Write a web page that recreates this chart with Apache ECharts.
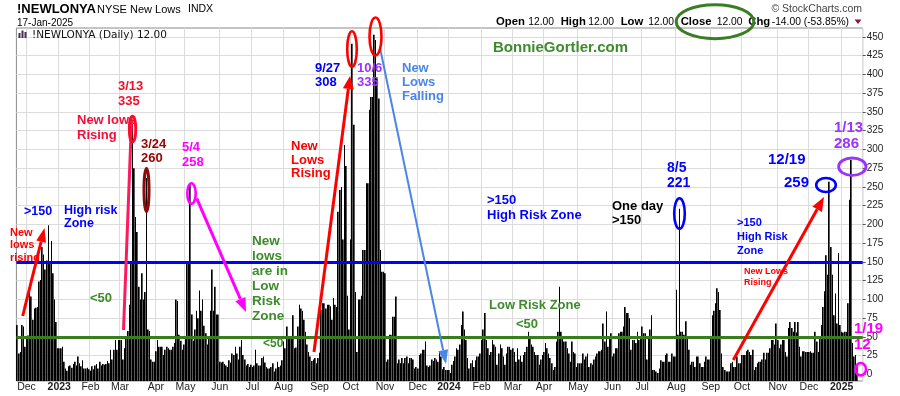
<!DOCTYPE html>
<html><head><meta charset="utf-8">
<script src="https://cdn.jsdelivr.net/npm/echarts@6.0.0/dist/echarts.min.js"></script>
<style>html,body{margin:0;padding:0;background:#fff}#c{width:900px;height:396px}</style>
</head><body><div id="c"></div>
<script>
// ---- data ----
const firstDate = '2022-11-22';
const holidays = ['2022-11-24','2022-12-26','2023-01-02','2023-01-16','2023-02-20','2023-04-07','2023-05-29','2023-06-19','2023-07-04','2023-09-04','2023-11-23','2023-12-25','2024-01-01','2024-01-15','2024-02-19','2024-03-29','2024-05-27','2024-06-19','2024-07-04','2024-09-02','2024-11-28','2024-12-25','2025-01-01','2025-01-09'];
const lows2022 = [66,28,30,66,64,37,
  50,52,113,104,73,88,89,90,124,126,170,160,140,152,199,150,178,135,100,70,35];
const lows2023 = [
  35,35,37,17,8,5,11,12,9,14,17,12,24,15,11,19,8,8,9,7,
  5,11,7,12,14,8,17,12,14,13,14,18,15,33,20,33,46,33,46,
  46,46,20,35,48,58,93,150,340,275,210,190,117,100,135,100,110,262,60,58,20,17,17,
  31,46,37,37,37,26,33,37,35,33,33,37,42,100,98,53,45,33,40,
  48,148,150,255,80,45,60,85,75,112,85,100,65,55,40,48,85,140,85,117,80,80,
  17,16,17,14,12,10,19,16,28,26,37,28,20,37,46,26,20,12,14,10,13,
  10,12,33,15,12,12,22,24,16,10,8,8,10,15,4,8,17,10,12,19,
  44,35,64,48,48,48,79,35,36,64,93,88,85,73,57,40,30,24,18,20,22,15,22,
  29,86,95,95,88,93,93,91,73,102,93,90,217,246,250,180,306,278,105,60,
  180,441,333,110,30,100,100,105,166,166,255,255,353,370,370,453,446,395,368,166,137,137,
  135,17,20,53,53,77,77,104,15,20,15,22,15,22,24,15,22,22,20,8,10,
  8,26,28,33,33,44,12,10,12,20,18,22,20,17,31,24,7,10,6,6];
const lows2024 = [
  6,2,13,18,24,35,33,40,66,84,60,46,22,8,15,19,10,19,24,24,28,
  46,60,82,46,35,26,30,46,40,37,13,28,40,35,24,13,28,37,37,33,
  35,30,17,35,20,25,17,26,30,37,57,48,40,37,30,26,26,13,20,26,
  30,42,35,28,22,15,6,10,44,57,117,57,50,44,44,35,28,17,44,30,28,10,
  15,15,15,28,20,24,28,10,15,13,20,24,28,31,31,33,68,44,84,37,50,55,
  24,28,35,35,55,57,57,64,90,82,82,75,33,46,46,42,57,46,50,
  64,55,55,20,50,60,79,6,6,4,2,8,19,17,17,26,28,17,17,28,24,24,
  113,53,221,57,57,53,71,50,33,13,17,17,10,24,24,15,10,10,17,24,20,20,
  50,79,85,95,115,110,86,28,10,6,4,4,4,15,17,10,10,24,15,15,
  26,26,26,31,33,30,26,33,6,10,15,17,17,20,29,20,29,29,35,46,46,40,68,
  46,35,40,46,46,30,24,62,70,62,57,70,56,70,37,24,31,31,30,30,
  30,31,29,29,57,44,30,48,66,90,111,159,133,257,170,133,79,108,68,162,66];
const lows2025 = [57,56,57,57,95,233,286,42,24,26,12];
const yTicks = [0,25,50,75,100,125,150,175,200,225,250,275,300,325,350,375,400,425,450];
const monthNames = ['Jan','Feb','Mar','Apr','May','Jun','Jul','Aug','Sep','Oct','Nov','Dec'];
const highRiskLevel = 150;
const lowRiskLevel = 50;
const padSlots = 3;

// ---- build ----
const values = [].concat(lows2022, lows2023, lows2024, lows2025);
const dates = [];
(function(){
  const d = new Date(firstDate + 'T00:00:00Z');
  while (dates.length < values.length) {
    const dow = d.getUTCDay();
    const s = d.toISOString().slice(0,10);
    if (dow !== 0 && dow !== 6 && holidays.indexOf(s) < 0) dates.push(s);
    d.setUTCDate(d.getUTCDate() + 1);
  }
})();
const categories = dates.concat(new Array(padSlots).fill(''));
const isMonthStart = categories.map((s,i) => i > 0 && !!s && s.slice(5,7) !== categories[i-1].slice(5,7));

const FF = '"Liberation Sans", Arial, sans-serif';
function T(x, cy, text, color, size, lh, o) {
  o = o || {};
  return {type:'text', x:x, y:cy, z:o.z == null ? 50 : o.z,
    style:{text:text, fill:color, font:(o.weight||'bold') + ' ' + size + 'px ' + (o.family||FF),
      lineHeight:lh||size+2, verticalAlign:'middle', textVerticalAlign:'middle',
      align:o.align||'left', textAlign:o.align||'left'}};
}
function E(cx, cy, rx, ry, color, lw) {
  return {type:'ellipse', z:60, shape:{cx:cx, cy:cy, rx:rx, ry:ry}, style:{fill:'none', stroke:color, lineWidth:lw}};
}
function A(x1, y1, x2, y2, color, lw, hl, hw) {
  const a = Math.atan2(y2-y1, x2-x1);
  const bx = x2 - hl*Math.cos(a), by = y2 - hl*Math.sin(a);
  const px = -Math.sin(a)*hw/2, py = Math.cos(a)*hw/2;
  return [
    {type:'line', z:55, shape:{x1:x1, y1:y1, x2:bx, y2:by}, style:{stroke:color, lineWidth:lw}},
    {type:'polygon', z:55, shape:{points:[[x2,y2],[bx+px,by+py],[bx-px,by-py]]}, style:{fill:color}}
  ];
}

const G = [];
// header
G.push(T(17, 9, '!NEWLONYA', '#000', 13));
G.push(T(97, 9.5, 'NYSE New Lows', '#000', 11, 13, {weight:'normal'}));
G.push(T(188, 9.5, 'INDX', '#000', 10.5, 13, {weight:'normal'}));
G.push(T(17, 23, '17-Jan-2025', '#000', 10, 12, {weight:'normal'}));
G.push({type:'rect', z:50, shape:{x:18.5, y:33, width:2, height:5}, style:{fill:'#4a2a55'}});
G.push({type:'rect', z:50, shape:{x:21.5, y:30.5, width:2, height:7.5}, style:{fill:'#4a2a55'}});
G.push({type:'rect', z:50, shape:{x:24.5, y:32, width:2, height:6}, style:{fill:'#4a2a55'}});
G.push(T(32, 35, '!NEWLONYA (Daily) 12.00', '#111', 10.5, 12, {weight:'normal', family:'"DejaVu Sans", Verdana, sans-serif'}));
G.push(T(862, 9, '\u00a9 StockCharts.com', '#444', 10.5, 12, {weight:'normal', align:'right'}));
[[496,'Open',1],[528.3,'12.00',0],[560.7,'High',1],[588.3,'12.00',0],[620.7,'Low',1],[648.3,'12.00',0],
 [680.7,'Close',1],[716.7,'12.00',0],[748.3,'Chg',1],[771.7,'-14.00 (-53.85%)',0]].forEach(p => {
  G.push(T(p[0], 22, p[1], '#000', p[2] ? 11.3 : 10.3, 13, {weight:p[2] ? 'bold' : 'normal'}));
});
G.push({type:'polygon', z:50, shape:{points:[[854.5,19.5],[861.5,19.5],[858,24]]}, style:{fill:'#8b1538'}});
G.push(E(715, 21.7, 38.8, 17, '#3a7d22', 3));
G.push(T(493, 48, 'BonnieGortler.com', '#3d8b2d', 15));

// left annotations
G.push(T(10, 245, 'New\nlows\nrising', '#ff0000', 11, 12.5, {z:1}));
G.push(...A(22.7, 316, 44.5, 228, '#ff0000', 3, 14, 10));
G.push(T(24, 212, '>150', '#0000ff', 12.5, 13));
G.push(T(64, 217.5, 'High risk\nZone', '#0000ff', 12.5, 13));
G.push(T(90, 298, '<50', '#3d8b2d', 13, 14));
G.push({type:'line', z:55, shape:{x1:123.5, y1:330, x2:131.5, y2:121}, style:{stroke:'#ff1a5e', lineWidth:3}});
G.push(T(118, 93.5, '3/13\n335', '#f0102a', 13, 15));
G.push(T(77, 128, 'New lows\nRising', '#f0103a', 13, 15));
G.push(E(132.5, 129, 3.2, 12.8, '#ff0a2a', 2.8));
G.push(T(141, 151, '3/24\n260', '#990000', 13, 14));
G.push(E(146.5, 190, 2.5, 21.5, '#8b0a0a', 3));
G.push(T(182, 155, '5/4\n258', '#ff00ff', 13, 14.5));
G.push(E(191.5, 193.5, 4.2, 10.2, '#ff00ff', 2.6));
G.push(...A(196.7, 198.3, 246, 312, '#ff00ff', 3, 14, 11));
G.push(T(252, 279, 'New\nlows\nare in\nLow\nRisk\nZone', '#3d8b2d', 13.5, 14.9));
G.push(T(263, 344, '<50', '#3d8b2d', 12, 13));

// middle annotations
G.push(T(291, 160, 'New\nLows\nRising', '#ff0000', 13, 13.5));
G.push(...A(314, 352, 350, 76, '#ff0000', 3, 13, 11));
G.push(E(352, 49, 4.8, 17.8, '#ff0000', 2.6));
G.push(E(375.5, 36.5, 6, 19, '#ff0000', 2.6));
G.push(T(315, 75, '9/27\n308', '#0000ee', 13, 14));
G.push(T(357, 75, '10/6\n335', '#9933ff', 13, 14));
G.push(T(402, 82, 'New\nLows\nFalling', '#4a86e8', 13, 14));
G.push(...A(380, 48, 446, 364, '#4a86e8', 2, 14, 10));
G.push(T(487, 208, '>150\nHigh Risk Zone', '#0000ff', 13, 15));
G.push(T(489, 305.5, 'Low Risk Zone', '#3d8b2d', 13, 14));
G.push(T(516, 324, '<50', '#3d8b2d', 13, 14));

// right annotations
G.push(T(612, 213, 'One day\n>150', '#000', 13, 14));
G.push(T(667, 175.75, '8/5\n221', '#0000ff', 14, 14.5));
G.push(E(679.5, 213.5, 5.3, 15.3, '#0000ff', 2.6));
G.push(T(737, 237, '>150\nHigh Risk\nZone', '#0000ff', 11, 13.75));
G.push(T(744, 277.2, 'New Lows\nRising', '#ff0000', 9, 10.5, {family:'"Liberation Sans Narrow", "Liberation Sans", Arial, sans-serif'}));
G.push(...A(733.3, 360, 824, 197, '#ff0000', 3, 14, 11));
G.push(T(768, 160, '12/19', '#0000ff', 15, 16));
G.push(T(784, 182.5, '259', '#0000ff', 15, 16));
G.push(E(826, 185, 9.8, 7, '#0000ff', 2.6));
G.push(T(834, 136, '1/13\n286', '#9933ff', 15, 15.5));
G.push(E(852.3, 166.7, 13.7, 8.7, '#9933ff', 2.8));
G.push(T(854, 337, '1/19\n12', '#ff00ff', 15, 15.5));
G.push(E(860.7, 369.2, 5.3, 6.2, '#ff00ff', 2.6));

const chart = echarts.init(document.getElementById('c'), null, {renderer:'canvas'});
chart.setOption({
  animation:false,
  backgroundColor:'#fff',
  grid:{left:16.4, right:37.3, top:28, bottom:15, show:true, borderColor:'#8a8a8a', borderWidth:1, containLabel:false, outerBoundsMode:'none'},
  xAxis:{type:'category', data:categories, boundaryGap:true,
    axisLine:{show:false}, axisTick:{show:false},
    axisLabel:{interval:(i) => isMonthStart[i], margin:1, fontSize:10.5, color:'#222', fontFamily:FF,
      formatter:(v) => { if (!v) return ''; const m = +v.slice(5,7); return m === 1 ? '{y|' + v.slice(0,4) + '}' : monthNames[m-1]; },
      rich:{y:{fontWeight:'bold', fontSize:10.5, color:'#222', fontFamily:FF}}},
    splitLine:{show:true, interval:(i) => isMonthStart[i], lineStyle:{color:'#dcdcdc', width:1}}},
  yAxis:{type:'value', position:'right', min:-8.7, max:462,
    axisLine:{show:false},
    axisTick:{show:true, length:3, customValues:yTicks, lineStyle:{color:'#555'}},
    axisLabel:{customValues:yTicks, fontSize:10, color:'#222', margin:4, fontFamily:FF},
    splitLine:{show:true, lineStyle:{color:'#dcdcdc', width:1}}},
  series:[
    {type:'custom', z:2, clip:true, data:values.map((v,i) => [i, v]), encode:{x:0, y:1},
      renderItem:function(params, api){
        const p = api.coord([api.value(0), api.value(1)]);
        const band = api.size([1, 0])[0];
        const x0 = Math.round(p[0] - band/2);
        const x1 = Math.round(p[0] + band/2);
        const w = (x1 - x0) >= 2 ? (x1 - x0) - 0.35 : 1;
        const bottom = params.coordSys.y + params.coordSys.height;
        return {type:'rect', shape:{x:x0, y:p[1], width:w, height:bottom - p[1]}, style:{fill:'#000'}};
      }},
    {type:'line', data:[], z:5, markLine:{silent:true, symbol:'none', animation:false, label:{show:false},
      data:[{yAxis:highRiskLevel, lineStyle:{color:'#0000ff', width:3, type:'solid'}},
            {yAxis:lowRiskLevel, lineStyle:{color:'#3a7d1e', width:3, type:'solid'}}]}}
  ],
  graphic:{elements:G}
});
</script></body></html>
